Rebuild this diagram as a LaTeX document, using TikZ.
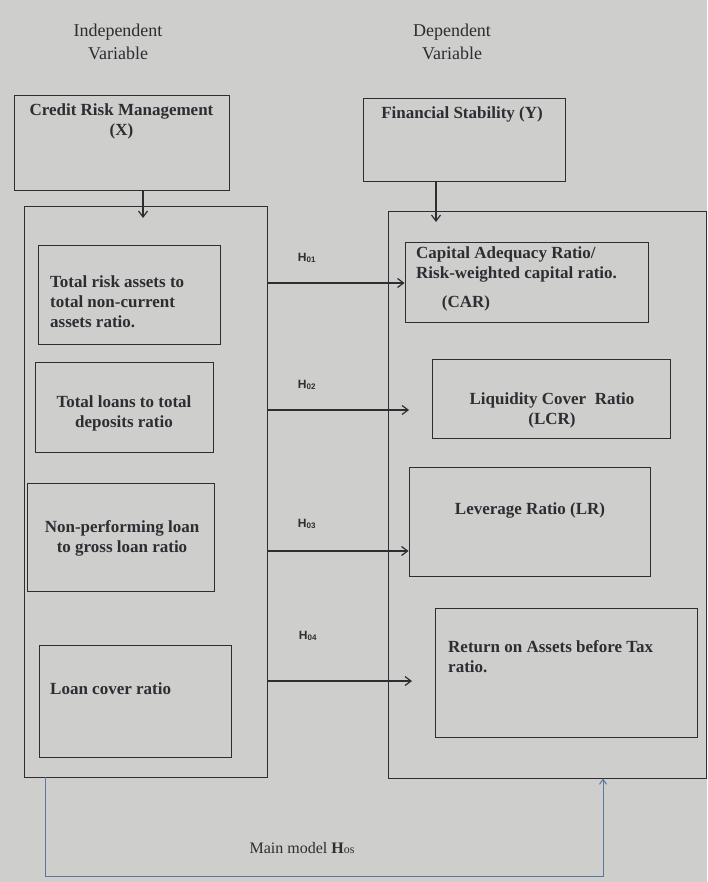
\documentclass[tikz,border=0pt]{standalone}
\usepackage{fontspec}
\setmainfont{Liberation Serif}
\newfontfamily\hsans{Liberation Sans}
\usetikzlibrary{arrows.meta,calc}
\definecolor{bg}{RGB}{206,206,204}
\definecolor{ink}{RGB}{45,45,50}
\definecolor{loopc}{RGB}{90,120,155}
\tikzset{
  boxr/.style={draw=ink, line width=0.9pt, inner sep=0pt},
  lbl/.style={text=ink, font=\fontsize{17}{20}\selectfont\bfseries, inner sep=0pt, align=left},
  lblc/.style={text=ink, font=\fontsize{17}{20}\selectfont\bfseries, inner sep=0pt, align=center},
  hd/.style={text=ink, font=\fontsize{18}{23}\selectfont, inner sep=0pt, align=center},
  hl/.style={text=ink, font=\hsans\fontsize{12}{14}\selectfont\bfseries, inner sep=0pt},
  arr/.style={draw=ink, line width=1.2pt, -{Straight Barb[length=6pt,width=9pt]}},
}
\begin{document}
\begin{tikzpicture}[x=1pt,y=-1pt]
\fill[bg] (0,0) rectangle (707,882);
\useasboundingbox (0,0) rectangle (707,882);
% headings
\node[hd] (hi) at (118,42) {Independent\\Variable};
\node[hd] (hdv) at (452,42) {Dependent\\Variable};
% top boxes
\node[boxr, minimum width=215pt, minimum height=95pt] (crm) at (121.5,142.5) {};
\node[lblc, anchor=north] (crmt) at (121.5,104) {Credit Risk Management\\(X)};
\node[boxr, minimum width=202pt, minimum height=83pt] (fs) at (464,139.5) {};
\node[lblc, anchor=north] (fst) at (462,107) {Financial Stability (Y)};
% big boxes
\node[boxr, minimum width=243pt, minimum height=571pt] (lbig) at (145.5,491.5) {};
\node[boxr, minimum width=318pt, minimum height=567pt] (rbig) at (547,494.5) {};
% down arrows
\coordinate (d1) at (143,218);
\coordinate (d2) at (436,222);
\draw[arr] (crm.south -| d1) -- (d1);
\draw[arr] (fs.south -| d2) -- (d2);
% left inner boxes
\node[boxr, minimum width=182pt, minimum height=99pt] (l1) at (129,294.5) {};
\node[lbl, anchor=north west] (l1t) at (50,276) {Total risk assets to\\total non-current\\assets ratio.};
\node[boxr, minimum width=178pt, minimum height=90pt] (l2) at (124,407) {};
\node[lblc] (l2t) at (124,413) {Total loans to total\\deposits ratio};
\node[boxr, minimum width=187pt, minimum height=108pt] (l3) at (120.5,537) {};
\node[lblc] (l3t) at (122,538) {Non-performing loan\\to gross loan ratio};
\node[boxr, minimum width=192pt, minimum height=112pt] (l4) at (135,701) {};
\node[lbl, anchor=west] (l4t) at (50,689) {Loan cover ratio};
% right inner boxes
\node[boxr, minimum width=243pt, minimum height=80pt] (r1) at (526.5,282) {};
\node[lbl, anchor=north west] (r1t) at (416,247) {Capital Adequacy Ratio/\\Risk-weighted capital ratio.};
\node[lblc] (r1c) at (466,303) {(CAR)};
\node[boxr, minimum width=238pt, minimum height=79pt] (r2) at (551,398.5) {};
\node[lblc] (r2t) at (552,410) {Liquidity Cover\ \ Ratio\\(LCR)};
\node[boxr, minimum width=241pt, minimum height=109pt] (r3) at (529.5,521.5) {};
\node[lblc] (r3t) at (530,510) {Leverage Ratio (LR)};
\node[boxr, minimum width=262pt, minimum height=129pt] (r4) at (566,672.5) {};
\node[lbl, anchor=north west] (r4t) at (448,640) {Return on Assets before Tax\\ratio.};
% hypothesis arrows
\coordinate (a1) at (0,283);
\coordinate (a2) at (0,410);
\coordinate (a3) at (0,551);
\coordinate (a4) at (0,681);
\draw[arr] (lbig.east |- a1) -- (r1.west |- a1);
\draw[arr] (lbig.east |- a2) -- (409,410);
\draw[arr] (lbig.east |- a3) -- (r3.west |- a3);
\draw[arr] (lbig.east |- a4) -- (412,681);
\node[hl] (h1) at (307,258) {H\textsubscript{01}};
\node[hl] (h2) at (307,385) {H\textsubscript{02}};
\node[hl] (h3) at (307,524) {H\textsubscript{03}};
\node[hl] (h4) at (308,636) {H\textsubscript{04}};
% main model loop
\coordinate (m1) at (45,876);
\coordinate (m2) at (603,876);
\draw[draw=loopc, line width=1pt, -{Straight Barb[length=5pt,width=7pt]}]
  (lbig.south -| m1) -- (m1) -- (m2) -- (rbig.south -| m2);
\node[hd, font=\fontsize{16}{18}\selectfont] (mm) at (302,848) {Main model \textbf{H}{\fontsize{12}{12}\selectfont os}};
\end{tikzpicture}
\end{document}
